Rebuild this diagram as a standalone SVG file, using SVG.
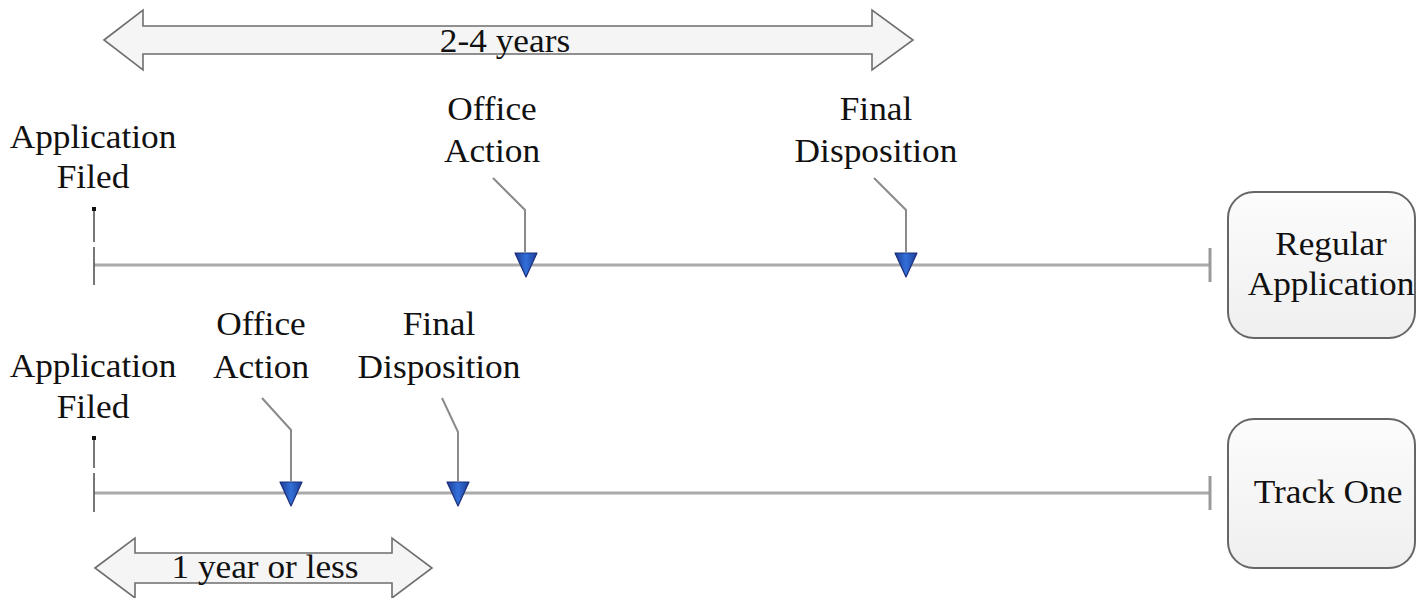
<svg xmlns="http://www.w3.org/2000/svg" width="1416" height="598" viewBox="0 0 1416 598">
<style>
  .t { font-family: "Liberation Serif", "Times New Roman", serif; font-size: 33px; fill: #111; text-anchor: middle; }
  .span { fill: #f5f5f5; stroke: #6e6e6e; stroke-width: 1.6; stroke-linejoin: miter; }
  .timeline { stroke: #aaaaaa; stroke-width: 3; fill: none; }
  .endtick { stroke: #9a9a9a; stroke-width: 3; fill: none; }
  .starttick { stroke: #555; stroke-width: 1.6; fill: none; }
  .leader { stroke: #8a8a8a; stroke-width: 2; fill: none; }
  .box { fill: url(#boxg); stroke: #666; stroke-width: 2; }
  .marker { fill: url(#mk); stroke: #1b2f7a; stroke-width: 1.2; stroke-linejoin: round; }
</style>
<defs>
  <linearGradient id="boxg" x1="0" y1="0" x2="0" y2="1">
    <stop offset="0" stop-color="#fcfcfc"/>
    <stop offset="1" stop-color="#efefef"/>
  </linearGradient>
  <linearGradient id="mk" x1="0" y1="0" x2="1" y2="0">
    <stop offset="0" stop-color="#1d3c96"/>
    <stop offset="0.5" stop-color="#3370d8"/>
    <stop offset="1" stop-color="#1d3c96"/>
  </linearGradient>
</defs>

<!-- span arrows -->
<g id="span-2-4-years">
  <polygon class="span" points="104,40 143,10 143,26 872,26 872,10 913,40 872,70 872,54 143,54 143,70"/>
  <text class="t" transform="translate(505,52) scale(1.07,1)">2-4 years</text>
</g>
<g id="span-1-year">
  <polygon class="span" points="95,568 135,538 135,553 392,553 392,538 432,568 392,598 392,583 135,583 135,598"/>
  <text class="t" transform="translate(265,578) scale(1.07,1)">1 year or less</text>
</g>

<!-- connectors: timelines, ticks, leaders -->
<g id="connectors">
  <line class="timeline" x1="94" y1="265" x2="1210" y2="265"/>
  <line class="endtick" x1="1210" y1="248" x2="1210" y2="282"/>
  <line class="starttick" x1="94" y1="210" x2="94" y2="242"/>
  <line class="starttick" x1="94" y1="247" x2="94" y2="285"/>
  <rect x="92" y="207" width="4" height="4" fill="#111"/>
  <polyline class="leader" points="493,178 525,210 525,252"/>
  <polyline class="leader" points="874,178 906,210 906,252"/>

  <line class="timeline" x1="94" y1="493" x2="1210" y2="493"/>
  <line class="endtick" x1="1210" y1="476" x2="1210" y2="510"/>
  <line class="starttick" x1="94" y1="440" x2="94" y2="468"/>
  <line class="starttick" x1="94" y1="473" x2="94" y2="512"/>
  <rect x="92" y="436" width="4" height="4" fill="#111"/>
  <polyline class="leader" points="262,398 291,430 291,481"/>
  <polyline class="leader" points="442,398 458,432 458,481"/>
</g>

<!-- regular application row -->
<g id="reg-filed">
  <text class="t" transform="translate(93,148) scale(1.07,1)">Application</text>
  <text class="t" transform="translate(93,188) scale(1.07,1)">Filed</text>
</g>
<g id="reg-office-action">
  <text class="t" transform="translate(492,120) scale(1.07,1)">Office</text>
  <text class="t" transform="translate(492,162) scale(1.07,1)">Action</text>
  <polygon class="marker" points="515,253 537,253 526,277"/>
</g>
<g id="reg-final">
  <text class="t" transform="translate(876,120) scale(1.07,1)">Final</text>
  <text class="t" transform="translate(876,162) scale(1.07,1)">Disposition</text>
  <polygon class="marker" points="895,253 917,253 906,277"/>
</g>
<g id="regular-application">
  <rect class="box" x="1228" y="192" width="187" height="146" rx="26" ry="26"/>
  <text class="t" transform="translate(1331,255) scale(1.07,1)">Regular</text>
  <text class="t" transform="translate(1331,295) scale(1.07,1)">Application</text>
</g>

<!-- track one row -->
<g id="t1-filed">
  <text class="t" transform="translate(93,377) scale(1.07,1)">Application</text>
  <text class="t" transform="translate(93,418) scale(1.07,1)">Filed</text>
</g>
<g id="t1-office-action">
  <text class="t" transform="translate(261,335) scale(1.07,1)">Office</text>
  <text class="t" transform="translate(261,378) scale(1.07,1)">Action</text>
  <polygon class="marker" points="280,482 302,482 291,506"/>
</g>
<g id="t1-final">
  <text class="t" transform="translate(439,335) scale(1.07,1)">Final</text>
  <text class="t" transform="translate(439,378) scale(1.07,1)">Disposition</text>
  <polygon class="marker" points="447,482 469,482 458,506"/>
</g>
<g id="track-one">
  <rect class="box" x="1228" y="419" width="187" height="149" rx="26" ry="26"/>
  <text class="t" transform="translate(1328,503) scale(1.07,1)">Track One</text>
</g>
</svg>
